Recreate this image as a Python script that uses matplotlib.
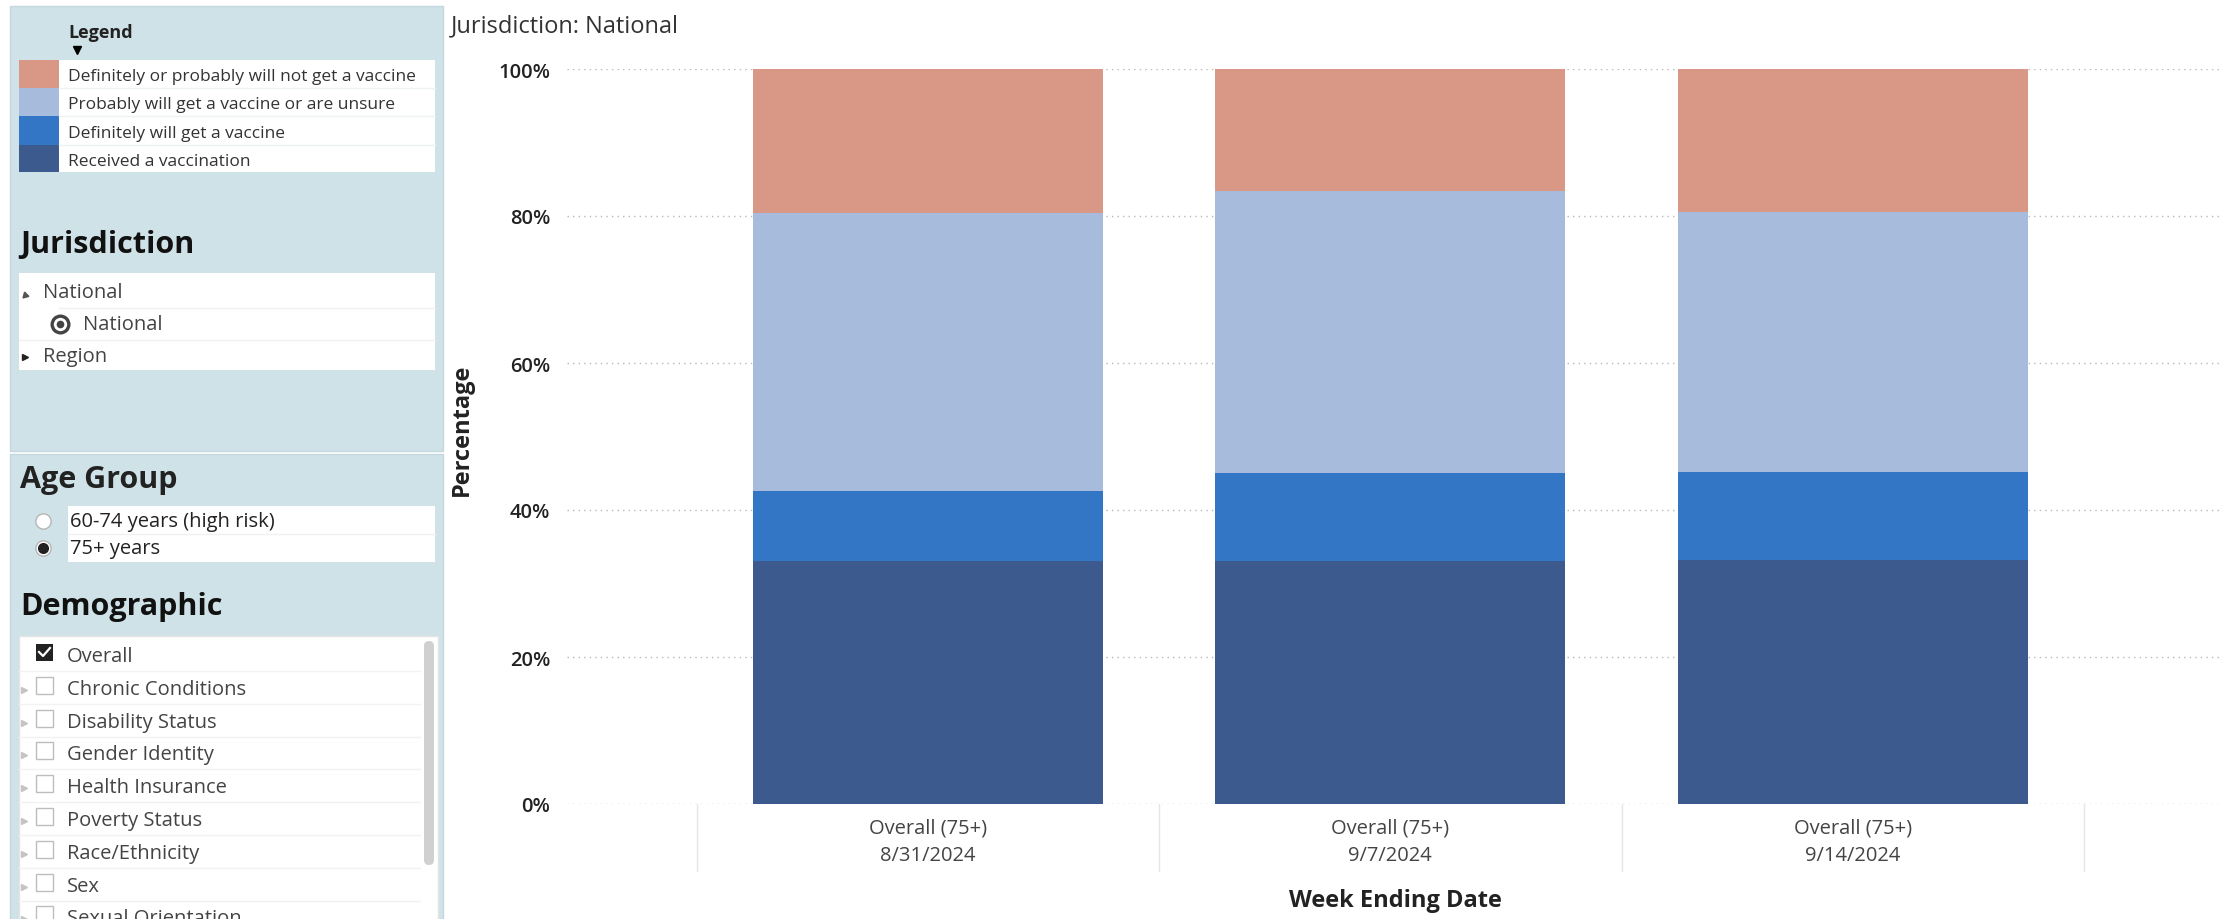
import matplotlib.pyplot as plt
from matplotlib.patches import Rectangle, FancyBboxPatch
import matplotlib.ticker as mticker
import matplotlib.transforms as mtransforms

plt.rcParams['font.family'] = ['Open Sans', 'DejaVu Sans']

# Survey shares (%) for the 75+ group, one value per week ending date
weeks = ["8/31/2024", "9/7/2024", "9/14/2024"]
group_label = "Overall (75+)"
received = [33.0, 33.1, 33.2]
definitely = [9.6, 12.0, 12.0]
probably_unsure = [37.8, 38.3, 35.3]
will_not = [19.6, 16.6, 19.5]

series_names = [
    "Definitely or probably will not get a vaccine",
    "Probably will get a vaccine or are unsure",
    "Definitely will get a vaccine",
    "Received a vaccination",
]
series_colors = ["#d99785", "#a7bbdc", "#3376c6", "#3c5a8d"]

jurisdictions = ["National", "National", "Region"]
age_groups = ["60-74 years (high risk)", "75+ years"]
demographics = ["Overall", "Chronic Conditions", "Disability Status", "Gender Identity",
                "Health Insurance", "Poverty Status", "Race/Ethnicity", "Sex",
                "Sexual Orientation"]

W, H = 2223, 920
fig = plt.figure(figsize=(W / 100, H / 100), dpi=100)

# ---- side panel drawn in pixel coordinates ----
side = fig.add_axes([0, 0, 1, 1], zorder=0)
side.set_xlim(0, W)
side.set_ylim(H, 0)
side.axis('off')

panel_bg = "#cfe2e7"
side.add_patch(Rectangle((10, 7), 433, 445, facecolor=panel_bg, edgecolor="#c3d8de", lw=1))
side.add_patch(Rectangle((10, 455), 433, 470, facecolor=panel_bg, edgecolor="#c3d8de", lw=1))

# legend block
side.text(68, 33, "Legend", fontsize=13, fontweight='bold', color="#222222", va='center')
side.plot([77], [51], marker='v', color='black', markersize=6)
row_top = [61, 89, 117, 146]
row_bot = [89, 117, 146, 173]
side.add_patch(Rectangle((59, 61), 376, 112, facecolor='white', edgecolor='none'))
for name, col, t, b in zip(series_names, series_colors, row_top, row_bot):
    side.add_patch(Rectangle((19, t), 40, b - t, facecolor=col, edgecolor='none'))
    side.text(68, (t + b) / 2 + 2, name, fontsize=12.5, color="#333333", va='center')
    if b < 173:
        side.plot([59, 435], [b, b], color="#eef2f4", lw=1)

# jurisdiction block
side.text(20, 245, "Jurisdiction", fontsize=22, fontweight='bold', color="#111111", va='center')
side.add_patch(Rectangle((19, 274), 416, 97, facecolor='white', edgecolor='none'))
side.plot([59, 435], [309, 309], color="#f0f0f0", lw=1)
side.plot([19, 435], [341, 341], color="#f0f0f0", lw=1)
side.plot([25], [296], marker=(3, 0, 15), color="#555555", markersize=5)
side.text(43, 293, jurisdictions[0], fontsize=14.5, color="#444444", va='center')
side.plot([60], [325], marker='o', markersize=12, markerfacecolor='white',
          markeredgecolor="#444444", markeredgewidth=2.4)
side.plot([60], [325], marker='o', markersize=4.5, color="#444444")
side.text(83, 325, jurisdictions[1], fontsize=14.5, color="#444444", va='center')
side.plot([25], [358], marker='>', color="#222222", markersize=5)
side.text(43, 357, jurisdictions[2], fontsize=14.5, color="#444444", va='center')

# age group block
side.text(20, 480, "Age Group", fontsize=22, fontweight='bold', color="#222222", va='center')
side.add_patch(Rectangle((68, 507), 367, 56, facecolor='white', edgecolor='none'))
side.plot([68, 435], [535, 535], color="#f0f0f0", lw=1)
age_y = [522, 549]
for i, (label, y) in enumerate(zip(age_groups, age_y)):
    side.plot([43], [y], marker='o', markersize=11, markerfacecolor='white',
              markeredgecolor="#b5b5b5", markeredgewidth=1)
    if i == 1:
        side.plot([43], [y], marker='o', markersize=7, color="#222222")
    side.text(70, y, label, fontsize=14.5, color="#222222", va='center')

# demographic list
side.text(20, 607, "Demographic", fontsize=22, fontweight='bold', color="#111111", va='center')
side.add_patch(Rectangle((19, 637), 419, 290, facecolor='white', edgecolor="#e4e4e4", lw=1))
for i, label in enumerate(demographics):
    y = 655 + i * 32.8
    if i == 0:
        side.add_patch(Rectangle((36, y - 10), 17, 17, facecolor="#222222", edgecolor='none'))
        side.plot([39, 43, 50], [y - 2, y + 2, y - 6], color='white', lw=1.6)
    else:
        side.plot([24], [y + 3], marker='>', color="#c4c4c4", markersize=4)
        side.add_patch(Rectangle((36, y - 10), 17, 17, facecolor='white',
                                 edgecolor="#bdbdbd", lw=1))
    side.text(67, y + 2, label, fontsize=14.5, color="#444444", va='center')
    side.plot([19, 420], [y + 17, y + 17], color="#f2f2f2", lw=1)
side.add_patch(FancyBboxPatch((424, 642), 10, 224, boxstyle="round,pad=0,rounding_size=5",
                              facecolor="#d0d0d0", edgecolor='none'))

# ---- stacked bar chart ----
ax = fig.add_axes([567 / W, 1 - 805 / H, (W - 567) / W, (805 - 70) / H], zorder=1)
ax.set_facecolor('none')

x = list(range(len(weeks)))
stack = [received, definitely, probably_unsure, will_not]
colors = series_colors[::-1]
bottom = [0.0] * len(weeks)
for vals, col in zip(stack, colors):
    ax.bar(x, vals, bottom=bottom, width=0.757, color=col, edgecolor='none', zorder=2)
    bottom = [b + v for b, v in zip(bottom, vals)]

ax.set_ylim(0, 100)
ax.set_xlim(-0.78, 2.80)
ax.yaxis.set_major_locator(mticker.MultipleLocator(20))
ax.yaxis.set_major_formatter(mticker.FuncFormatter(lambda v, p: f"{int(v)}%"))
ax.grid(axis='y', linestyle=(0, (1, 3)), color="#b8b8b8", lw=1, zorder=0)
ax.tick_params(axis='y', length=0, pad=12, labelsize=14.5, labelcolor="#222222")
for lab in ax.get_yticklabels():
    lab.set_fontweight('semibold')
for s in ax.spines.values():
    s.set_visible(False)

ax.set_xticks(x)
ax.set_xticklabels([f"{group_label}\n{w}" for w in weeks], linespacing=1.5)
ax.tick_params(axis='x', length=0, pad=10, labelsize=14.5, labelcolor="#444444")

# separators between the category slots
trans = mtransforms.blended_transform_factory(ax.transData, ax.transAxes)
for sx in [-0.5, 0.5, 1.5, 2.5]:
    ax.plot([sx, sx], [0, -67 / 735], transform=trans, color="#e6e6e6", lw=1, clip_on=False)

ax.set_xlabel("Week Ending Date", fontsize=17, fontweight='bold', color="#222222", labelpad=16)
ax.set_ylabel("Percentage", fontsize=17, fontweight='bold', color="#222222")
ax.yaxis.set_label_coords(-0.056, 0.51)

fig.text(451 / W, 1 - 26 / H, "Jurisdiction: National", fontsize=17, color="#333333",
         ha='left', va='center')

fig.savefig("out.png", dpi=100)
